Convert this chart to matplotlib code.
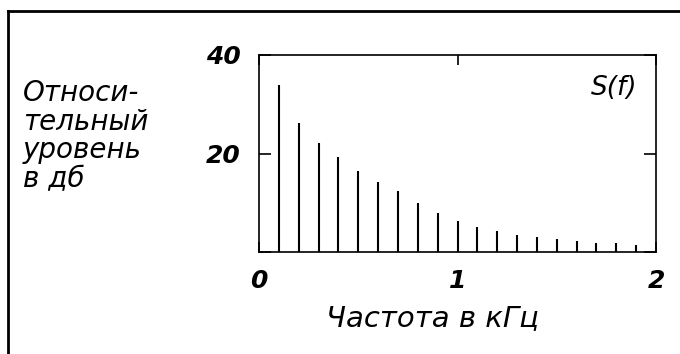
import matplotlib
matplotlib.use('Agg')
import matplotlib.pyplot as plt
from matplotlib.lines import Line2D

# частоты гармоник (кГц) и относительный уровень (дБ)
freqs = [0.1, 0.2, 0.3, 0.4, 0.5, 0.6, 0.7, 0.8, 0.9, 1.0,
         1.1, 1.2, 1.3, 1.4, 1.5, 1.6, 1.7, 1.8, 1.9]
levels = [34.0, 26.2, 22.1, 19.3, 16.4, 14.3, 12.3, 9.9, 7.9, 6.2,
          5.0, 4.2, 3.4, 3.0, 2.6, 2.2, 1.8, 1.8, 1.4]
xticks = [0, 1, 2]
yticks = [0, 20, 40]
ytick_labels = ['', '20', '40']

plt.rcParams['font.family'] = ['DejaVu Sans']

W, H = 680, 354
fig = plt.figure(figsize=(W / 100, H / 100), dpi=100)
ax = fig.add_axes([259 / W, 1 - 252 / H, (656 - 259) / W, (252 - 55) / H])

ax.vlines(freqs, 0, levels, color='black', linewidth=1.5)
ax.set_xlim(0, 2)
ax.set_ylim(0, 40)

# подписи делений и короткие засечки внутрь (по краям совпадают с рамкой)
ax.set_xticks(xticks)
ax.set_xticklabels([str(t) for t in xticks], fontsize=18, fontweight='bold', fontstyle='italic')
ax.set_yticks(yticks)
ax.set_yticklabels(ytick_labels, fontsize=18, fontweight='bold', fontstyle='italic')
ax.tick_params(axis='x', direction='in', length=7, width=1.2, top=True, bottom=True, pad=12)
ax.tick_params(axis='y', direction='in', length=8.5, width=1.2, left=True, right=True, pad=13)

for s in ax.spines.values():
    s.set_linewidth(1.2)

fig.text(614 / W, 1 - 88 / H, 'S(f)', fontsize=19, fontstyle='italic', ha='center', va='center')
fig.text(23 / W, 1 - 136 / H, 'Относи-\nтельный\nуровень\nв дб', fontsize=20,
         fontstyle='italic', ha='left', va='center', linespacing=1.04)
fig.text(432 / W, 1 - 318 / H, 'Частота в кГц', fontsize=21, fontstyle='italic',
         ha='center', va='center')

# рамка вокруг рисунка (слева и сверху)
fig.add_artist(Line2D([8 / W, 8 / W], [0, 1 - 11 / H], transform=fig.transFigure, color='black', linewidth=2))
fig.add_artist(Line2D([8 / W, 1], [1 - 11 / H, 1 - 11 / H], transform=fig.transFigure, color='black', linewidth=2))

fig.savefig('out.png', dpi=100)
